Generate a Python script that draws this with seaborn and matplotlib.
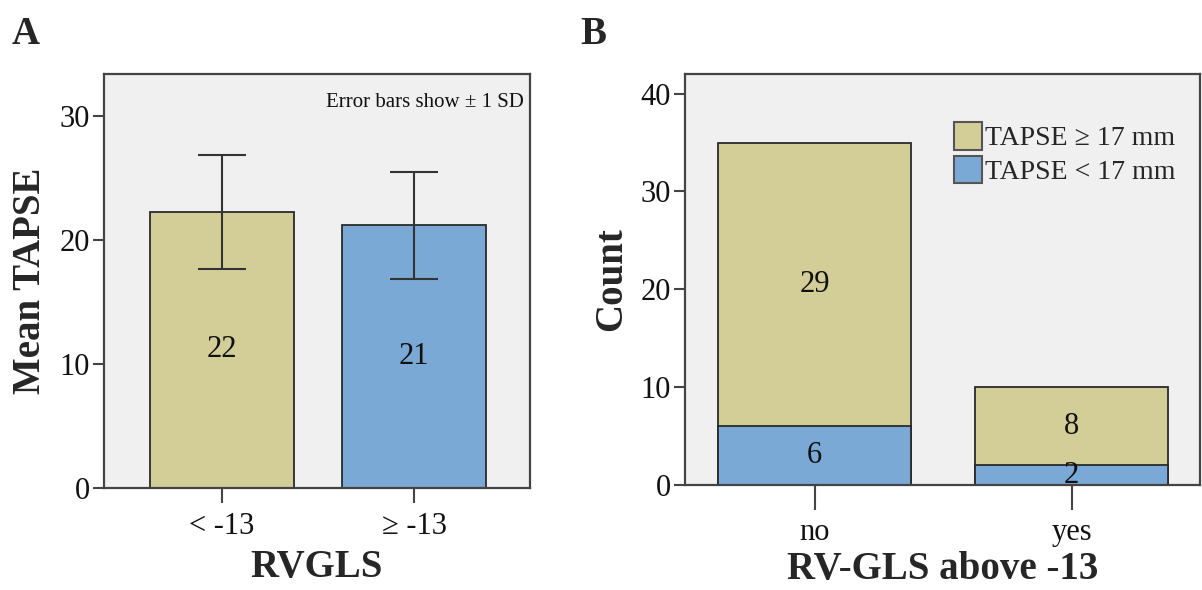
import numpy as np
import pandas as pd
import matplotlib
matplotlib.use("Agg")
import matplotlib.pyplot as plt
from matplotlib.patches import Patch
import seaborn as sns

# ---- data ----
a_categories = ["< -13", "\u2265 -13"]
a_means = [22.3, 21.2]
a_sd = [4.6, 4.3]
a_labels = ["22", "21"]

b_categories = ["no", "yes"]
b_low = [6, 2]        # TAPSE < 17 mm
b_high = [29, 8]      # TAPSE >= 17 mm
b_series = ["TAPSE \u2265 17 mm", "TAPSE < 17 mm"]

TAN = "#D3CE98"
BLUE = "#7BA9D5"
BG = "#F0F0F0"
EDGE = "#2a2a2a"
SPINE = "#444444"

sns.set_style("white")
plt.rcParams["font.family"] = ["Liberation Serif", "DejaVu Serif"]

fig = plt.figure(figsize=(12.02, 5.9), dpi=100)
axA = fig.add_axes([104/1202, 1-488/590, (530-104)/1202, (488-74)/590])
axB = fig.add_axes([685/1202, 1-485/590, (1200-685)/1202, (485-74)/590])

def style(ax):
    ax.set_facecolor(BG)
    for s in ax.spines.values():
        s.set_color(SPINE)
        s.set_linewidth(1.6)
        s.set_visible(True)
    ax.tick_params(axis="y", length=8, width=1.5, color=SPINE, labelsize=22, pad=2, direction="out", left=True)
    ax.tick_params(axis="x", length=11, width=1.5, color=SPINE, labelsize=22, pad=6, direction="out", bottom=True)
    for t in ax.get_xticklabels() + ax.get_yticklabels():
        t.set_color("#111111")

# ---- Panel A ----
dfA = pd.DataFrame({"cat": a_categories, "mean": a_means})
sns.barplot(data=dfA, x="cat", y="mean", hue="cat", palette=[TAN, BLUE], order=a_categories,
            width=0.75, edgecolor=EDGE, linewidth=1.3, legend=False, errorbar=None,
            saturation=1, ax=axA)
xpos = np.arange(len(a_categories))
axA.errorbar(xpos, a_means, yerr=a_sd, fmt="none", ecolor="#333333", elinewidth=1.5,
             capsize=17, capthick=1.5, zorder=5)
for x, m, lab in zip(xpos, a_means, a_labels):
    axA.text(x, m/2, lab, ha="center", va="center", fontsize=22, color="#111111")
axA.set_xlim(-0.615, 1.604)
axA.set_ylim(0, 33.4)
axA.set_yticks([0, 10, 20, 30])
axA.set_xlabel("RVGLS", fontsize=28, fontweight="bold", labelpad=6)
axA.set_ylabel("Mean TAPSE", fontsize=28, fontweight="bold", labelpad=8)
axA.text(0.985, 0.955, "Error bars show \u00b1 1 SD", transform=axA.transAxes,
         ha="right", va="top", fontsize=15, color="#111111")
style(axA)

# ---- Panel B ----
totals = [l + h for l, h in zip(b_low, b_high)]
dfB = pd.DataFrame({"cat": b_categories, "total": totals, "low": b_low})
sns.barplot(data=dfB, x="cat", y="total", color=TAN, order=b_categories, width=0.75,
            edgecolor=EDGE, linewidth=1.3, errorbar=None, saturation=1, ax=axB)
sns.barplot(data=dfB, x="cat", y="low", color=BLUE, order=b_categories, width=0.75,
            edgecolor=EDGE, linewidth=1.3, errorbar=None, saturation=1, ax=axB)
xb = np.arange(len(b_categories))
for x, l, h in zip(xb, b_low, b_high):
    axB.text(x, l/2, str(l), ha="center", va="center", fontsize=22, color="#111111")
    axB.text(x, l + h/2, str(h), ha="center", va="center", fontsize=22, color="#111111")
axB.set_xlim(-0.504, 1.5)
axB.set_ylim(0, 42)
axB.set_yticks([0, 10, 20, 30, 40])
axB.set_xlabel("RV-GLS above -13", fontsize=28, fontweight="bold", labelpad=3)
axB.set_ylabel("Count", fontsize=28, fontweight="bold", labelpad=8)
style(axB)
axB.tick_params(axis="x", length=18)
handles = [Patch(facecolor=TAN, edgecolor="#555555", linewidth=1.5),
           Patch(facecolor=BLUE, edgecolor="#555555", linewidth=1.5)]
axB.legend(handles, b_series, loc="upper right", bbox_to_anchor=(0.99, 0.93), frameon=False,
           fontsize=20, handlelength=1.0, handleheight=1.15, handletextpad=0.12,
           labelspacing=0.15, borderpad=0.2)

# panel letters
fig.text(12/1202, 1-35/590, "A", fontsize=28, fontweight="bold", va="center", ha="left")
fig.text(580/1202, 1-35/590, "B", fontsize=28, fontweight="bold", va="center", ha="left")

fig.savefig("out.png", dpi=100, facecolor="white")
